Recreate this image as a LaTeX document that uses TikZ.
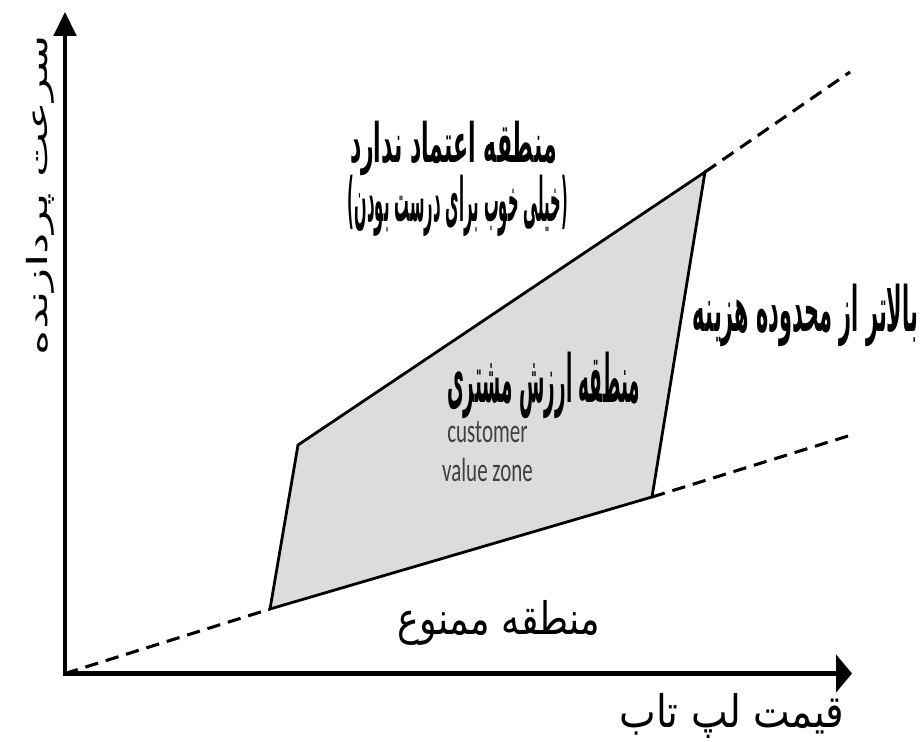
\documentclass[tikz,border=0pt]{standalone}
\usepackage{fontspec}
\usepackage{graphicx}
\TeXXeTstate=1
\newfontfamily\arabicfont[Script=Arabic]{DejaVu Sans}
\newfontfamily\parenfont{DejaVu Sans}
\newfontfamily\latinsans{Carlito}
\usetikzlibrary{arrows.meta}
\definecolor{zonefill}{RGB}{220,220,220}
\definecolor{zonetext}{RGB}{64,64,64}
% Persian label fitted into a box of given width and total height
\newcommand{\falabel}[3]{\resizebox*{#1}{#2}{\arabicfont #3}}
\newcommand{\fabold}[3]{\resizebox*{#1}{#2}{\arabicfont\bfseries #3}}
\tikzset{
  yaxis/.style={line width=2.6pt, -{Triangle[length=18pt, width=17pt]}},
  xaxis/.style={line width=4pt, -{Triangle[length=12pt, width=28pt]}},
  edge/.style={line width=2.1pt, line join=miter},
  guide/.style={line width=2.3pt, dash pattern=on 10pt off 6pt},
  lab/.style={inner sep=0pt, outer sep=0pt},
  en/.style={inner sep=0pt, text=zonetext}
}
\begin{document}
\begin{tikzpicture}[x=0.75pt, y=-0.75pt]
\useasboundingbox (0,0) rectangle (922,742);
% corners of the value zone and the ends of the guide lines
\coordinate (O) at (65,673.5);
\coordinate (A) at (270,609);
\coordinate (B) at (298,445);
\coordinate (C) at (705,172);
\coordinate (D) at (652,497);
\coordinate (U) at (850,72);
\coordinate (L) at (848,436);
\coordinate (Ytip) at (65,12);
\coordinate (Xtip) at (852,673.5);
% value zone
\filldraw[edge, fill=zonefill] (A) -- (B) -- (C) -- (D) -- cycle;
% guide lines
\draw[guide] (O) -- (A);
\draw[guide] (D) -- (L);
\draw[guide] (C) -- (U);
% axes
\draw[yaxis] ([yshift=-2pt]O) -- (Ytip);
\draw[xaxis] ([xshift=-1.3pt]O) -- (Xtip);
% labels
\node[lab, rotate=90] (ylab) at (40,195) {\falabel{240pt}{21pt}{\beginR سرعت پردازنده\endR}};
\node[lab] (xlab) at (732,715.5) {\falabel{168.75pt}{33.75pt}{\beginR قیمت لپ تاب\endR}};
\node[lab] (top1) at (453.5,148) {\fabold{155.25pt}{41pt}{\beginR منطقه اعتماد ندارد\endR}};
\node[lab] (top2) at (458,206) {\resizebox*{165pt}{46pt}{\bfseries\parenfont(\arabicfont\beginR خیلی خوب برای درست بودن\endR\parenfont)}};
\node[lab] (right) at (805.5,315) {\fabold{168.75pt}{47pt}{\beginR بالاتر از محدوده هزینه\endR}};
\node[lab] (mid) at (543.5,385) {\fabold{144.75pt}{50pt}{\beginR منطقه ارزش مشتری\endR}};
\node[en] (midEn) at (487.5,454) {\scalebox{1}[1.6]{\latinsans\fontsize{15.75}{18.3}\selectfont\begin{tabular}{@{}c@{}}customer\\value zone\end{tabular}}};
\node[lab] (bottom) at (499,622.5) {\falabel{151.5pt}{33.75pt}{\beginR منطقه ممنوع\endR}};
\end{tikzpicture}
\end{document}
